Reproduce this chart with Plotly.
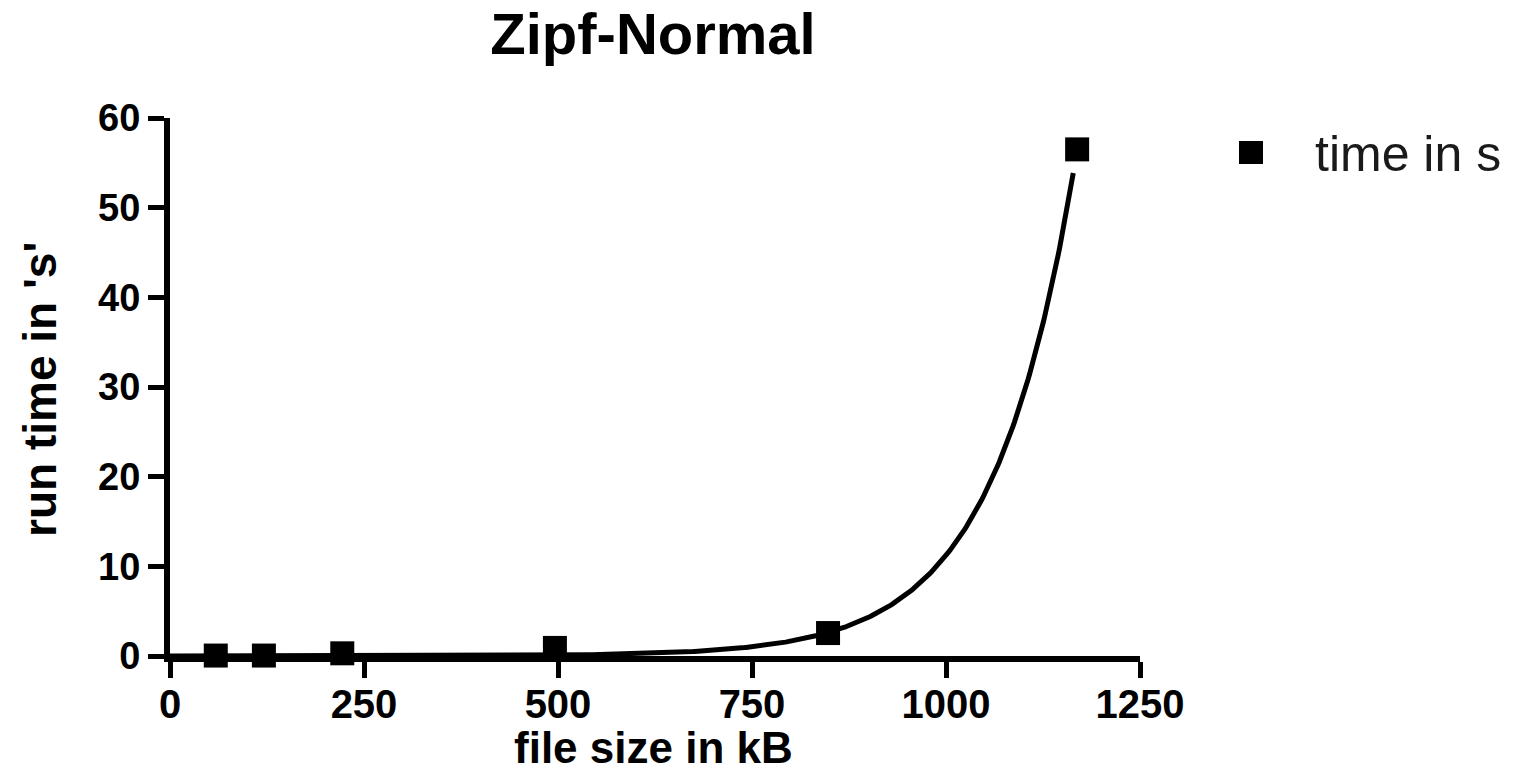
import numpy as np
import plotly.graph_objects as go

# Data
file_size_kb = [59, 121, 222, 496, 848, 1169]
run_time_s = [0.05, 0.05, 0.3, 0.9, 2.56, 56.5]
x_ticks = [0, 250, 500, 750, 1000, 1250]
y_ticks = [0, 10, 20, 30, 40, 50, 60]
curve_end_kb = 1164
series_name = "time in s"
title_text = "Zipf-Normal"
x_title = "file size in kB"
y_title = "run time in 's'"


def fit_exponential(x, y):
    x = np.asarray(x, float)
    y = np.asarray(y, float)
    k = np.log(y[-1] / y[-2]) / (x[-1] - x[-2])
    a = y[-1] / np.exp(k * x[-1])
    for _ in range(100):
        e = np.exp(k * x)
        r = y - a * e
        J = np.column_stack([e, a * x * e])
        d, *_ = np.linalg.lstsq(J, r, rcond=None)
        a += d[0]
        k += d[1]
    return a, k


A, K = fit_exponential(file_size_kb, run_time_s)
xc = np.linspace(0, curve_end_kb, 600)
yc = A * np.exp(K * xc)

FONT = "Liberation Sans, Arial, sans-serif"

fig = go.Figure()
fig.add_trace(go.Scatter(
    x=xc, y=yc, mode="lines",
    line=dict(color="black", width=5),
    showlegend=False, hoverinfo="skip", cliponaxis=False,
))
fig.add_trace(go.Scatter(
    x=file_size_kb, y=run_time_s, mode="markers", name=series_name,
    marker=dict(symbol="square", size=24, color="black"),
    cliponaxis=False, showlegend=False,
))

L, R, T, B = 170, 376, 118, 121
W, H = 1516, 777
pw, ph = W - L - R, H - T - B
def px_x(p):
    return (p - L) / pw
def px_y(p):
    return (H - B - p) / ph

# legend drawn manually (plotly caps legend symbol size)
fig.add_shape(type="rect", xref="paper", yref="paper",
              x0=px_x(1239), x1=px_x(1263), y0=px_y(164), y1=px_y(141),
              fillcolor="black", line=dict(width=0))
fig.add_annotation(xref="paper", yref="paper", x=px_x(1313), y=px_y(154),
                   xanchor="left", yanchor="middle", showarrow=False,
                   text=series_name,
                   font=dict(size=50, family=FONT, color="#1a1a1a"))

# axis titles
fig.add_annotation(xref="paper", yref="paper", x=px_x(653), y=px_y(748),
                   xanchor="center", yanchor="middle", showarrow=False,
                   text=f"<b>{x_title}</b>",
                   font=dict(size=44, family=FONT, color="black"))
fig.add_annotation(xref="paper", yref="paper", x=px_x(40), y=px_y(390),
                   xanchor="center", yanchor="middle", showarrow=False,
                   textangle=-90, text=f"<b>{y_title}</b>",
                   font=dict(size=46, family=FONT, color="black"))

fig.update_layout(
    width=W, height=H,
    margin=dict(l=L, r=R, t=T, b=B, autoexpand=False),
    paper_bgcolor="white", plot_bgcolor="white",
    font=dict(family=FONT, color="black"),
    showlegend=False,
    title=dict(text=f"<b>{title_text}</b>", x=653 / W, xanchor="center",
               y=1 - 34 / H, yanchor="middle",
               font=dict(size=58, family=FONT, color="black")),
    xaxis=dict(
        range=[0, 1250], tickvals=x_ticks, ticktext=[f"<b>{v}</b>" for v in x_ticks],
        showgrid=False, zeroline=False, showline=True, linecolor="black", linewidth=6,
        ticks="outside", ticklen=16, tickwidth=5, tickcolor="black",
        tickfont=dict(size=40, family=FONT, color="black"),
        ticklabelstandoff=-8,
        automargin=False,
    ),
    yaxis=dict(
        range=[0, 60], tickvals=y_ticks, ticktext=[f"<b>{v}</b>" for v in y_ticks],
        showgrid=False, zeroline=False, showline=True, linecolor="black", linewidth=6,
        ticks="outside", ticklen=16, tickwidth=5, tickcolor="black",
        tickfont=dict(size=38, family=FONT, color="black"),
        automargin=False,
    ),
)

fig.write_html("out.html")
